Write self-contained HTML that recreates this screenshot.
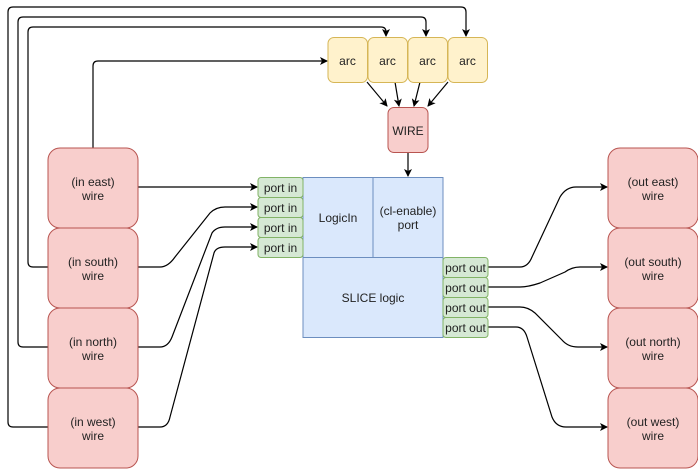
<!DOCTYPE html>
<html><head><style>
body{margin:0;width:698px;height:469px;background:#fff;font-family:"Liberation Sans",sans-serif;overflow:hidden}
svg{position:absolute;left:0;top:0}
text{font-family:"Liberation Sans",sans-serif;font-size:12px;fill:#222;text-anchor:middle}
</style></head><body>
<svg width="698" height="469" viewBox="0 0 698 469">
<defs><marker id="a" markerWidth="8" markerHeight="8" refX="7" refY="4" orient="auto" markerUnits="userSpaceOnUse"><path d="M0,0 L8,4 L0,8 L2,4 Z" fill="#000"/></marker></defs>
<g fill="none" stroke="#000" stroke-width="1.2">
<path d="M48,427 H13 Q8,427 8,422 V12 Q8,7 13,7 H461 Q466,7 466,12 V36" marker-end="url(#a)"/>
<path d="M48,347 H23 Q18,347 18,342 V22 Q18,17 23,17 H421 Q426,17 426,22 V36" marker-end="url(#a)"/>
<path d="M48,267 H33 Q28,267 28,262 V32 Q28,27 33,27 H381 Q386,27 386,32 V36" marker-end="url(#a)"/>
<path d="M93,148 V66 Q93,61 98,61 H327" marker-end="url(#a)"/>
<path d="M138,187 H257" marker-end="url(#a)"/>
<path d="M138,267 H160 Q168,267 175,257 L210,213 Q216,207 225,207 H257" marker-end="url(#a)"/>
<path d="M138,347 H160 Q168,347 172,337 L212,233 Q216,227 225,227 H257" marker-end="url(#a)"/>
<path d="M138,427 H160 Q168,427 170,417 L214,253 Q216,247 225,247 H257" marker-end="url(#a)"/>
<path d="M488,267 H520 Q528,267 532,257 L560,197 Q566,187 576,187 H607" marker-end="url(#a)"/>
<path d="M488,287 H520 Q528,287 540,283 L565,272 Q572,267 580,267 H607" marker-end="url(#a)"/>
<path d="M488,307 H520 Q528,307 535,313 L562,340 Q568,347 578,347 H607" marker-end="url(#a)"/>
<path d="M488,327 H516 Q524,327 527,337 L552,417 Q556,427 566,427 H607" marker-end="url(#a)"/>
<path d="M367,82 L387,106" marker-end="url(#a)"/>
<path d="M395,82 L399,106" marker-end="url(#a)"/>
<path d="M420,82 L414,106" marker-end="url(#a)"/>
<path d="M448,82 L428,106" marker-end="url(#a)"/>
<path d="M408,152 V176" marker-end="url(#a)"/>
</g>
<g stroke="#d6b656" fill="#fff2cc">
<rect x="328" y="37.5" width="39.5" height="45" rx="6"/>
<rect x="368" y="37.5" width="39.5" height="45" rx="6"/>
<rect x="408" y="37.5" width="39.5" height="45" rx="6"/>
<rect x="448" y="37.5" width="39.5" height="45" rx="6"/>
</g>
<text x="347.5" y="65">arc</text><text x="387.5" y="65">arc</text><text x="427.5" y="65">arc</text><text x="467.5" y="65">arc</text>
<rect x="388" y="107.5" width="40" height="45" rx="6" fill="#f8cecc" stroke="#b85450"/>
<text x="408" y="135">WIRE</text>
<g stroke="#6c8ebf" fill="#dae8fc">
<rect x="303" y="177.5" width="70" height="80"/>
<rect x="373" y="177.5" width="70" height="80"/>
<rect x="303" y="257.5" width="140" height="80"/>
</g>
<text x="338" y="222">LogicIn</text>
<text x="408" y="215">(cl-enable)</text><text x="408" y="229">port</text>
<text x="373" y="302">SLICE logic</text>
<g stroke="#82b366" fill="#d5e8d4">
<rect x="258" y="177.5" width="45" height="20" rx="3"/><rect x="258" y="197.5" width="45" height="20" rx="3"/>
<rect x="258" y="217.5" width="45" height="20" rx="3"/><rect x="258" y="237.5" width="45" height="20" rx="3"/>
<rect x="443" y="257.5" width="45" height="20" rx="3"/><rect x="443" y="277.5" width="45" height="20" rx="3"/>
<rect x="443" y="297.5" width="45" height="20" rx="3"/><rect x="443" y="317.5" width="45" height="20" rx="3"/>
</g>
<text x="280.5" y="192">port in</text><text x="280.5" y="212">port in</text><text x="280.5" y="232">port in</text><text x="280.5" y="252">port in</text>
<text x="465.5" y="272">port out</text><text x="465.5" y="292">port out</text><text x="465.5" y="312">port out</text><text x="465.5" y="332">port out</text>
<g stroke="#b85450" fill="#f8cecc">
<rect x="48" y="148" width="90" height="80" rx="12"/><rect x="48" y="228" width="90" height="80" rx="12"/>
<rect x="48" y="308" width="90" height="80" rx="12"/><rect x="48" y="388" width="90" height="80" rx="12"/>
<rect x="608" y="148" width="90" height="80" rx="12"/><rect x="608" y="228" width="90" height="80" rx="12"/>
<rect x="608" y="308" width="90" height="80" rx="12"/><rect x="608" y="388" width="90" height="80" rx="12"/>
</g>
<text x="93" y="186">(in east)</text><text x="93" y="200">wire</text>
<text x="93" y="266">(in south)</text><text x="93" y="280">wire</text>
<text x="93" y="346">(in north)</text><text x="93" y="360">wire</text>
<text x="93" y="426">(in west)</text><text x="93" y="440">wire</text>
<text x="653" y="186">(out east)</text><text x="653" y="200">wire</text>
<text x="653" y="266">(out south)</text><text x="653" y="280">wire</text>
<text x="653" y="346">(out north)</text><text x="653" y="360">wire</text>
<text x="653" y="426">(out west)</text><text x="653" y="440">wire</text>
</svg>
</body></html>
